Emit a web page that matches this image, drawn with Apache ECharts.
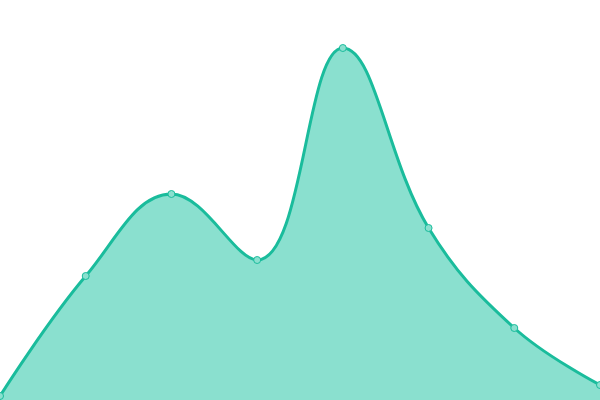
<!DOCTYPE html>
<html>
<head>
<meta charset="utf-8">
<script src="https://cdn.jsdelivr.net/npm/echarts@6/dist/echarts.min.js"></script>
<style>html,body{margin:0;padding:0;background:#fff}#c{width:600px;height:400px}</style>
</head>
<body>
<div id="c"></div>
<script>
var categories = ['A','B','C','D','E','F','G','H'];
var values = [4, 124, 206, 140, 352, 172, 72, 15];

var chart = echarts.init(document.getElementById('c'));
chart.setOption({
  animation: false,
  grid: {left: 0, right: 0, top: 0, bottom: 0},
  xAxis: {type: 'category', data: categories, boundaryGap: false, show: false},
  yAxis: {type: 'value', min: 0, max: 400, show: false},
  series: [{
    type: 'line',
    data: values,
    smooth: 0.4,
    symbol: 'circle',
    symbolSize: 7,
    lineStyle: {color: '#1abc9c', width: 3},
    itemStyle: {color: '#8ae0cf', borderColor: '#1abc9c', borderWidth: 1},
    areaStyle: {color: '#8ae0cf', opacity: 1}
  }]
});
</script>
</body>
</html>
